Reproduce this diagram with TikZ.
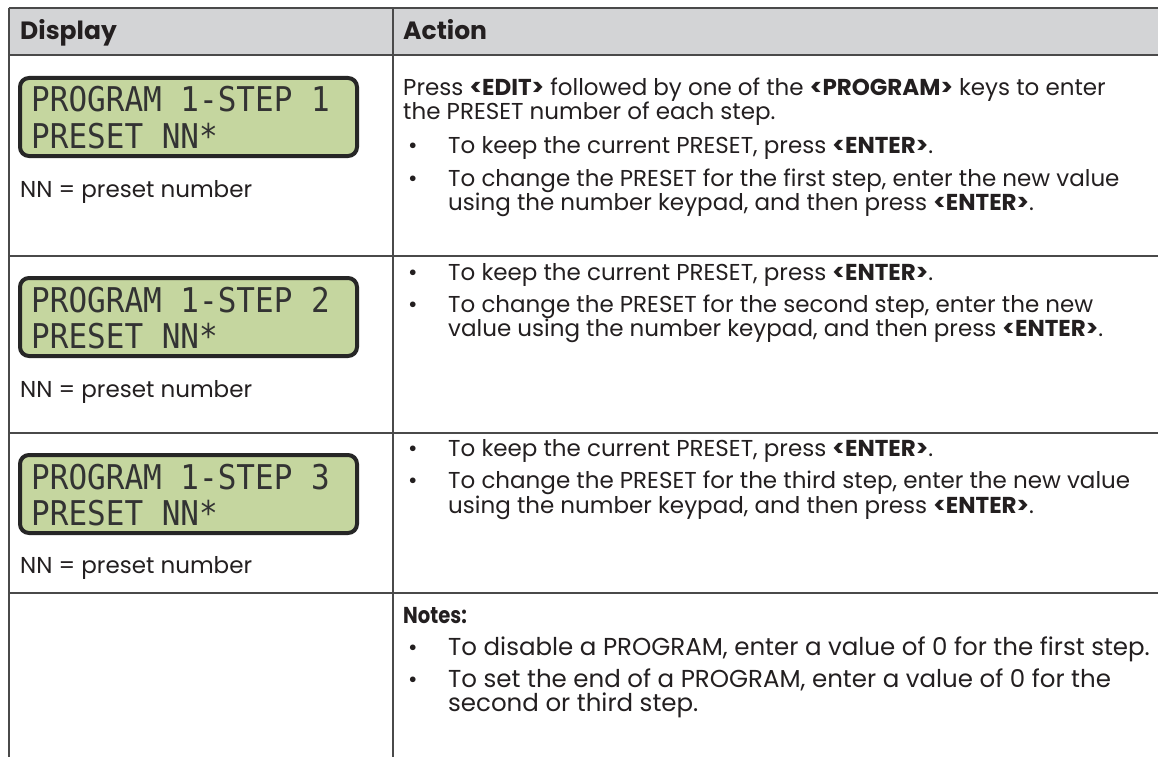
\documentclass[tikz,border=0pt]{standalone}
\usepackage{fontspec}
\setmainfont{Poppins}
\newfontfamily\lcdfont{DejaVu Sans Mono}
\definecolor{linegray}{HTML}{4A4A4A}
\definecolor{headgray}{HTML}{D3D4D6}
\definecolor{lcdgreen}{HTML}{C5D69F}
\definecolor{txtdark}{HTML}{231F20}
\tikzset{
  gridline/.style={draw=linegray, line width=2pt},
  lcdbox/.style={draw=black!85, line width=4pt, fill=lcdgreen, rounded corners=9pt},
  lcdtxt/.style={anchor=base west, inner sep=0pt, text=black!80, font=\fontsize{31}{36}\lcdfont},
  txt/.style={anchor=base west, inner sep=0pt, text=txtdark, font=\fontsize{23}{27}\selectfont},
  notetxt/.style={anchor=base west, inner sep=0pt, text=txtdark, font=\fontsize{24.5}{28}\selectfont},
  hdr/.style={anchor=base west, inner sep=0pt, text=txtdark, font=\fontsize{25}{29}\selectfont\bfseries},
  bul/.style={anchor=base west, inner sep=0pt, text=txtdark, font=\fontsize{23}{27}\selectfont},
}
\newcommand{\lcdline}[1]{\scalebox{1}[1.1]{#1}}
\begin{document}
\begin{tikzpicture}[x=1pt,y=-1pt]
\useasboundingbox (0,0) rectangle (1158,757);
\fill[white] (0,0) rectangle (1158,757);
% header
\fill[headgray] (8.5,8) rectangle (1158,55.5);
\draw[gridline] (8.5,8) -- (1158,8);
\draw[gridline] (8.5,55.5) -- (1158,55.5);
\draw[gridline] (8.5,256) -- (1158,256);
\draw[gridline] (8.5,433) -- (1158,433);
\draw[gridline] (8.5,593) -- (1158,593);
\draw[gridline] (8.5,8) -- (8.5,757);
\draw[gridline] (392.5,8) -- (392.5,757);

\node[hdr] (hd) at (20,40) {Display};
\node[hdr] (ha) at (403,40) {Action};

% LCDs
\foreach \i/\y in {1/0,2/200,3/377}{
  \draw[lcdbox] (20,78+\y) rectangle (357,156+\y);
  \node[lcdtxt] (l\i a) at (31,112+\y) {\lcdline{PROGRAM 1-STEP \i}};
  \node[lcdtxt] (l\i b) at (31,148+\y) {\lcdline{PRESET NN*}};
}
\node[txt] (nn1) at (20,197) {NN = preset number};
\node[txt] (nn2) at (20,397) {NN = preset number};
\node[txt] (nn3) at (20,573) {NN = preset number};

% row 1
\node[txt] (r1a) at (403,96) {Press \textbf{<EDIT>} followed by one of the \textbf{<PROGRAM>} keys to enter};
\node[txt] (r1b) at (403,120) {the PRESET number of each step.};
\node[bul] (b11) at (408,153) {•};
\node[txt] (r1c) at (448,153) {To keep the current PRESET, press \textbf{<ENTER>}.};
\node[bul] (b12) at (408,186) {•};
\node[txt] (r1d) at (448,186) {To change the PRESET for the first step, enter the new value};
\node[txt] (r1e) at (448,210) {using the number keypad, and then press \textbf{<ENTER>}.};

% row 2
\node[bul] (b21) at (408,280) {•};
\node[txt] (r2a) at (448,280) {To keep the current PRESET, press \textbf{<ENTER>}.};
\node[bul] (b22) at (408,312) {•};
\node[txt] (r2b) at (448,312) {To change the PRESET for the second step, enter the new};
\node[txt] (r2c) at (448,336) {value using the number keypad, and then press \textbf{<ENTER>}.};

% row 3
\node[bul] (b31) at (408,456) {•};
\node[txt] (r3a) at (448,456) {To keep the current PRESET, press \textbf{<ENTER>}.};
\node[bul] (b32) at (408,488) {•};
\node[txt] (r3b) at (448,488) {To change the PRESET for the third step, enter the new value};
\node[txt] (r3c) at (448,513) {using the number keypad, and then press \textbf{<ENTER>}.};

% row 4
\node[txt] (r4a) at (403,623) {\scalebox{0.85}[1]{\textbf{Notes:}}};
\node[bul] (b41) at (408,655) {•};
\node[notetxt] (r4b) at (448,655) {To disable a PROGRAM, enter a value of 0 for the first step.};
\node[bul] (b42) at (408,687) {•};
\node[notetxt] (r4c) at (448,687) {To set the end of a PROGRAM, enter a value of 0 for the};
\node[notetxt] (r4d) at (448,711) {second or third step.};
\end{tikzpicture}
\end{document}
